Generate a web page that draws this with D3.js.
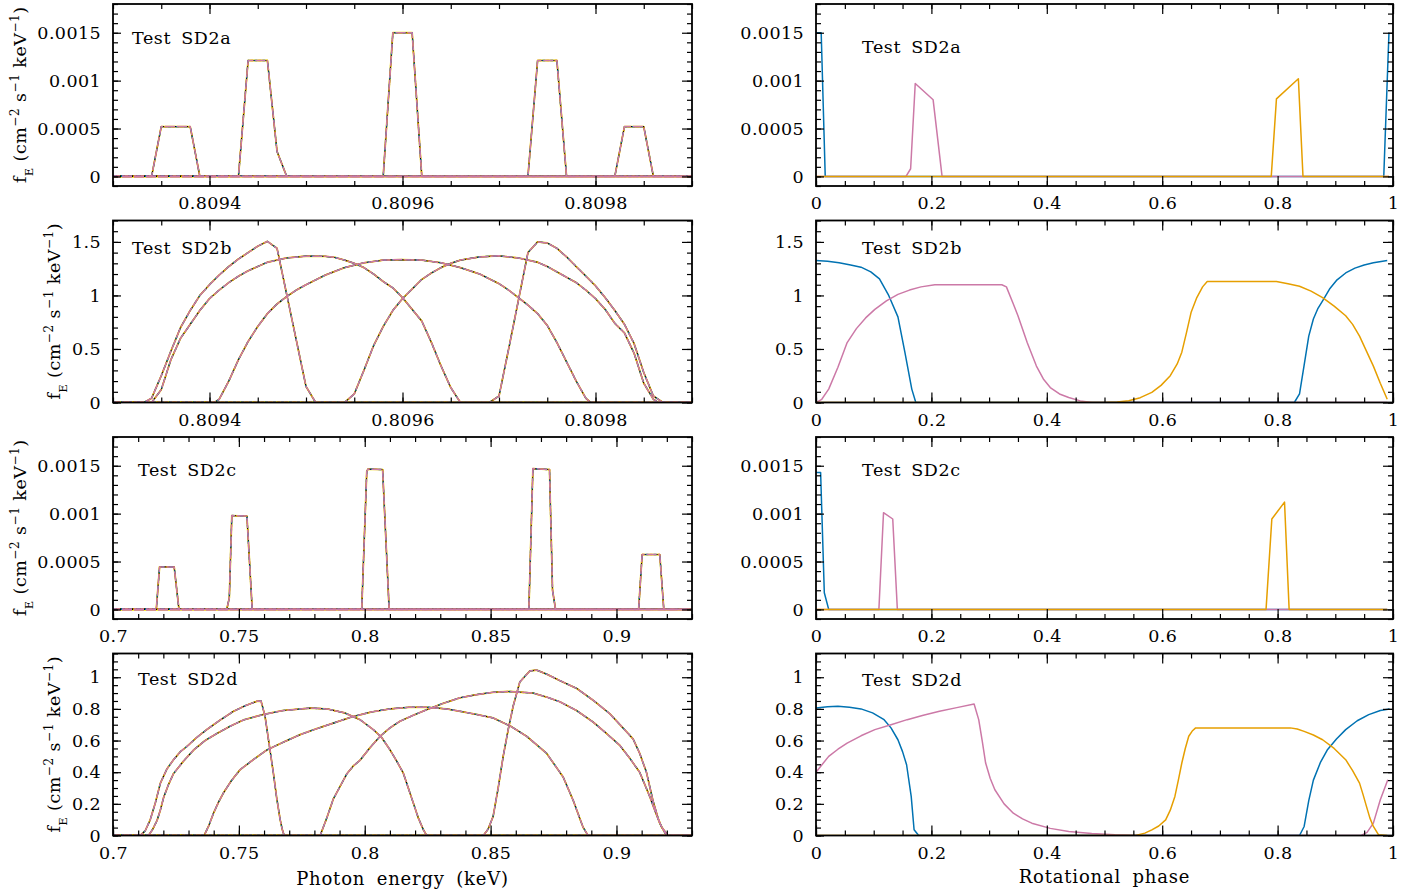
<!DOCTYPE html>
<html>
<head>
<meta charset="utf-8">
<script src="https://cdn.jsdelivr.net/npm/d3@7"></script>
<style>
  body { margin: 0; background: #fff; }
  svg text { font-family: "DejaVu Serif", serif; fill: #000; }
</style>
</head>
<body>
<svg id="fig" width="1422" height="892"></svg>
<script>
// ---------------- Spectra versus photon energy (keV, flux) ----------------
// Test SD2a: five phase slices
const sd2aSpec1 = [[0.8093,0],[0.80934,0],[0.80935,0.00052],[0.80938,0.00052],[0.80939,0],[0.8099,0]];
const sd2aSpec2 = [[0.8093,0],[0.80943,0],[0.80944,0.00121],[0.80946,0.00121],[0.80947,0.00026],[0.80948,0],[0.8099,0]];
const sd2aSpec3 = [[0.8093,0],[0.80958,0],[0.80959,0.0015],[0.80961,0.0015],[0.80962,0],[0.8099,0]];
const sd2aSpec4 = [[0.8093,0],[0.80973,0],[0.80974,0.00121],[0.80976,0.00121],[0.80977,0],[0.8099,0]];
const sd2aSpec5 = [[0.8093,0],[0.80982,0],[0.80983,0.00052],[0.80985,0.00052],[0.80986,0],[0.8099,0]];

// Test SD2b
const sd2bSpec1 = [[0.8093,0],[0.809332,0],[0.80934,0.04],[0.80935,0.25],[0.80936,0.48],[0.80937,0.70],[0.80938,0.86],
  [0.80939,1.0],[0.8094,1.10],[0.80941,1.19],[0.80942,1.27],[0.80943,1.34],[0.80944,1.40],[0.80945,1.46],[0.80946,1.505],
  [0.80947,1.44],[0.80948,1.01],[0.80949,0.58],[0.8095,0.15],[0.80951,0],[0.8099,0]];
const sd2bSpec2 = [[0.8093,0],[0.80934,0],[0.80935,0.12],[0.80936,0.40],[0.80937,0.60],[0.80938,0.73],[0.80939,0.86],
  [0.8094,0.97],[0.80941,1.05],[0.80942,1.12],[0.80943,1.18],[0.80944,1.23],[0.80946,1.31],[0.80948,1.35],[0.8095,1.367],
  [0.80952,1.365],[0.80953,1.355],[0.80954,1.33],[0.80955,1.30],[0.80956,1.26],[0.80957,1.20],[0.80958,1.13],[0.80959,1.07],
  [0.8096,0.98],[0.80961,0.87],[0.80962,0.76],[0.80963,0.56],[0.80964,0.34],[0.80965,0.14],[0.80966,0],[0.8099,0]];
const sd2bSpec3 = [[0.8093,0],[0.809405,0],[0.80941,0.03],[0.80942,0.20],[0.80943,0.40],[0.80944,0.57],[0.80945,0.71],
  [0.80946,0.83],[0.80947,0.92],[0.80948,0.99],[0.80949,1.05],[0.8095,1.10],[0.80952,1.19],[0.80954,1.26],[0.80956,1.305],
  [0.80958,1.33],[0.8096,1.335],[0.80962,1.33],[0.80964,1.305],[0.80966,1.26],[0.80968,1.20],[0.8097,1.11],[0.80971,1.05],
  [0.80972,0.98],[0.80973,0.91],[0.80974,0.83],[0.80975,0.72],[0.80976,0.56],[0.80977,0.38],[0.80978,0.20],[0.80979,0.04],
  [0.809795,0],[0.8099,0]];
const sd2bSpec4 = [[0.8093,0],[0.80954,0],[0.80955,0.08],[0.80956,0.30],[0.80957,0.53],[0.80958,0.71],[0.80959,0.86],
  [0.8096,0.97],[0.80961,1.06],[0.80962,1.15],[0.80963,1.21],[0.80964,1.26],[0.80965,1.30],[0.80966,1.33],[0.80968,1.36],
  [0.8097,1.37],[0.80972,1.35],[0.80974,1.31],[0.80975,1.27],[0.80976,1.22],[0.80977,1.17],[0.80978,1.12],[0.80979,1.05],
  [0.8098,0.97],[0.80981,0.87],[0.80982,0.74],[0.80983,0.65],[0.80984,0.46],[0.80985,0.18],[0.80986,0.03],[0.809865,0],[0.8099,0]];
const sd2bSpec5 = [[0.8093,0],[0.80969,0],[0.8097,0.06],[0.80971,0.50],[0.80972,0.95],[0.80973,1.40],[0.80974,1.50],
  [0.80975,1.49],[0.80976,1.44],[0.80977,1.36],[0.80978,1.27],[0.80979,1.18],[0.8098,1.09],[0.80981,0.98],[0.80982,0.86],
  [0.80983,0.73],[0.80984,0.55],[0.80985,0.28],[0.80986,0.06],[0.80987,0],[0.8099,0]];

// Test SD2c
const sd2cSpec1 = [[0.7,0],[0.7172,0],[0.7185,0.000444],[0.7243,0.000444],[0.7262,0],[0.93,0]];
const sd2cSpec2 = [[0.7,0],[0.7452,0],[0.7462,0.00012],[0.7472,0.00098],[0.7532,0.000975],[0.7553,0],[0.93,0]];
const sd2cSpec3 = [[0.7,0],[0.7988,0],[0.8008,0.00144],[0.8013,0.001465],[0.8071,0.00146],[0.8097,0],[0.93,0]];
const sd2cSpec4 = [[0.7,0],[0.8652,0],[0.8668,0.00147],[0.8734,0.00146],[0.8746,0.0002],[0.8758,0],[0.93,0]];
const sd2cSpec5 = [[0.7,0],[0.9088,0],[0.9102,0.000573],[0.9172,0.000573],[0.9188,0],[0.93,0]];

// Test SD2d
const sd2dSpec1 = [[0.7,0],[0.7108,0],[0.7128,0.03],[0.7148,0.10],[0.7168,0.205],[0.7188,0.33],[0.7214,0.42],[0.7241,0.48],
  [0.7268,0.53],[0.7294,0.563],[0.7333,0.62],[0.7373,0.67],[0.7426,0.73],[0.7479,0.785],[0.7525,0.82],[0.7571,0.848],
  [0.7588,0.85],[0.7604,0.753],[0.762,0.58],[0.7637,0.395],[0.765,0.24],[0.7664,0.10],[0.7672,0.04],[0.768,0],[0.93,0]];
const sd2dSpec2 = [[0.7,0],[0.7141,0],[0.7158,0.04],[0.7175,0.095],[0.7188,0.16],[0.7201,0.24],[0.722,0.32],[0.724,0.39],
  [0.728,0.47],[0.732,0.54],[0.7366,0.60],[0.7413,0.645],[0.7465,0.69],[0.7518,0.73],[0.7598,0.765],[0.7677,0.79],
  [0.7783,0.805],[0.785,0.80],[0.792,0.775],[0.7981,0.732],[0.8034,0.669],[0.8067,0.62],[0.81,0.542],[0.8127,0.47],
  [0.8153,0.395],[0.8173,0.30],[0.8193,0.205],[0.8213,0.11],[0.8233,0.036],[0.8246,0],[0.93,0]];
const sd2dSpec3 = [[0.7,0],[0.7362,0],[0.738,0.06],[0.7399,0.14],[0.7419,0.21],[0.7439,0.27],[0.7472,0.35],[0.7505,0.416],
  [0.7558,0.48],[0.7611,0.54],[0.7677,0.59],[0.7743,0.637],[0.7809,0.675],[0.7875,0.71],[0.795,0.75],[0.8025,0.78],
  [0.81,0.80],[0.8175,0.81],[0.825,0.81],[0.8325,0.80],[0.8378,0.785],[0.8444,0.765],[0.851,0.743],[0.858,0.69],
  [0.8643,0.627],[0.8722,0.52],[0.8788,0.37],[0.8828,0.222],[0.8867,0.053],[0.8887,0],[0.93,0]];
const sd2dSpec4 = [[0.7,0],[0.7823,0],[0.7849,0.11],[0.7875,0.23],[0.7902,0.31],[0.7929,0.39],[0.7955,0.44],[0.7981,0.475],
  [0.8021,0.555],[0.8061,0.627],[0.81,0.68],[0.814,0.722],[0.8193,0.76],[0.8246,0.795],[0.8312,0.835],[0.8378,0.87],
  [0.8444,0.89],[0.851,0.905],[0.8577,0.91],[0.8669,0.90],[0.8722,0.875],[0.8775,0.845],[0.8841,0.79],[0.8907,0.717],
  [0.896,0.645],[0.9013,0.57],[0.9052,0.49],[0.9092,0.40],[0.9132,0.247],[0.9152,0.16],[0.9172,0.078],[0.9198,0],[0.93,0]];
const sd2dSpec5 = [[0.7,0],[0.8471,0],[0.849,0.04],[0.851,0.12],[0.853,0.30],[0.855,0.50],[0.857,0.67],[0.859,0.82],
  [0.8616,0.97],[0.8656,1.04],[0.8683,1.045],[0.8722,1.02],[0.878,0.975],[0.8841,0.93],[0.8907,0.855],[0.8973,0.77],
  [0.902,0.69],[0.9066,0.61],[0.9092,0.52],[0.9119,0.40],[0.9145,0.22],[0.9165,0.11],[0.9179,0.053],[0.9205,0],[0.93,0]];

// ---------------- Light curves versus rotational phase ----------------
const sd2aPhaseBlue   = [[0,0.0015],[0.009,0.0015],[0.016,0],[0.984,0],[0.993,0.0015]];
const sd2aPhasePink   = [[0,0],[0.156,0],[0.164,0.00008],[0.172,0.00097],[0.203,0.0008],[0.2185,0],[0.993,0]];
const sd2aPhaseOrange = [[0,0],[0.789,0],[0.798,0.00081],[0.836,0.00102],[0.844,0],[0.993,0]];

const sd2bPhaseBlue = [[0,1.326],[0.02,1.32],[0.04,1.305],[0.06,1.285],[0.078,1.264],[0.095,1.22],[0.11,1.155],[0.126,1.0],
  [0.142,0.80],[0.154,0.47],[0.166,0.125],[0.173,0],[0.829,0],[0.838,0.08],[0.846,0.35],[0.854,0.62],[0.862,0.78],
  [0.87,0.88],[0.878,0.95],[0.89,1.06],[0.902,1.14],[0.918,1.21],[0.934,1.255],[0.95,1.285],[0.966,1.305],[0.99,1.326]];
const sd2bPhasePink = [[0,0],[0.01,0.03],[0.022,0.125],[0.038,0.33],[0.054,0.56],[0.07,0.69],[0.086,0.79],[0.102,0.87],
  [0.122,0.95],[0.142,1.01],[0.162,1.05],[0.182,1.08],[0.206,1.10],[0.322,1.10],[0.33,1.08],[0.342,0.92],[0.35,0.81],
  [0.366,0.56],[0.382,0.34],[0.394,0.22],[0.406,0.14],[0.422,0.08],[0.438,0.047],[0.458,0.015],[0.478,0],[0.99,0]];
const sd2bPhaseOrange = [[0,0],[0.5,0],[0.522,0.005],[0.542,0.016],[0.562,0.045],[0.582,0.094],[0.598,0.16],[0.614,0.25],
  [0.626,0.36],[0.634,0.47],[0.642,0.65],[0.65,0.84],[0.66,0.98],[0.67,1.08],[0.678,1.13],[0.798,1.13],[0.818,1.11],
  [0.838,1.086],[0.858,1.04],[0.878,0.98],[0.898,0.90],[0.918,0.81],[0.93,0.73],[0.942,0.62],[0.954,0.48],[0.966,0.34],
  [0.978,0.18],[0.99,0.03]];

const sd2cPhaseBlue   = [[0,0.00143],[0.008,0.00143],[0.0144,0.000174],[0.022,0],[0.99,0]];
const sd2cPhasePink   = [[0,0],[0.109,0],[0.117,0.00101],[0.133,0.000944],[0.141,0],[0.99,0]];
const sd2cPhaseOrange = [[0,0],[0.78,0],[0.79,0.000944],[0.812,0.00112],[0.82,0],[0.99,0]];

const sd2dPhaseBlue = [[0,0.806],[0.02,0.814],[0.038,0.816],[0.058,0.81],[0.078,0.80],[0.098,0.775],[0.118,0.732],[0.13,0.68],
  [0.142,0.605],[0.15,0.53],[0.157,0.447],[0.165,0.247],[0.17,0.036],[0.178,0],[0.838,0],[0.846,0.057],[0.854,0.22],
  [0.862,0.35],[0.874,0.46],[0.886,0.54],[0.902,0.61],[0.918,0.669],[0.938,0.725],[0.958,0.764],[0.978,0.79],[0.994,0.80]];
const sd2dPhasePink = [[0,0.40],[0.011,0.45],[0.022,0.50],[0.038,0.545],[0.054,0.584],[0.078,0.63],[0.102,0.669],[0.13,0.70],
  [0.158,0.732],[0.186,0.76],[0.214,0.785],[0.244,0.808],[0.274,0.831],[0.282,0.732],[0.288,0.6],[0.294,0.458],[0.302,0.36],
  [0.31,0.289],[0.326,0.2],[0.342,0.141],[0.358,0.105],[0.374,0.078],[0.406,0.045],[0.438,0.025],[0.478,0.012],[0.518,0.004],
  [0.558,0],[0.945,0],[0.955,0.02],[0.966,0.078],[0.978,0.226],[0.991,0.352]];
const sd2dPhaseOrange = [[0,0],[0.554,0],[0.57,0.015],[0.582,0.036],[0.594,0.06],[0.606,0.099],[0.614,0.16],[0.622,0.247],
  [0.628,0.35],[0.634,0.458],[0.64,0.55],[0.646,0.627],[0.652,0.66],[0.658,0.68],[0.822,0.68],[0.834,0.673],[0.846,0.658],
  [0.862,0.635],[0.878,0.605],[0.898,0.55],[0.918,0.479],[0.93,0.41],[0.942,0.331],[0.948,0.26],[0.954,0.184],[0.96,0.11],
  [0.966,0.057],[0.975,0.004],[0.99,0]];

// ---------------- Tick values and labels ----------------
const fineEnergyTicks  = [0.8094, 0.8096, 0.8098];
const fineEnergyLabels = ["0.8094", "0.8096", "0.8098"];
const wideEnergyTicks  = [0.7, 0.75, 0.8, 0.85, 0.9];
const wideEnergyLabels = ["0.7", "0.75", "0.8", "0.85", "0.9"];
const phaseTicks       = [0, 0.2, 0.4, 0.6, 0.8, 1];
const phaseLabels      = ["0", "0.2", "0.4", "0.6", "0.8", "1"];
const smallFluxTicks   = [0, 0.0005, 0.001, 0.0015];
const smallFluxLabels  = ["0", "0.0005", "0.001", "0.0015"];
const bFluxTicks       = [0, 0.5, 1, 1.5];
const bFluxLabels      = ["0", "0.5", "1", "1.5"];
const dFluxTicks       = [0, 0.2, 0.4, 0.6, 0.8, 1];
const dFluxLabels      = ["0", "0.2", "0.4", "0.6", "0.8", "1"];
const testNames        = ["Test SD2a", "Test SD2b", "Test SD2c", "Test SD2d"];

// ---------------- Layout ----------------
const svg = d3.select("#fig");
const colX = [{x0: 113, x1: 692}, {x0: 816, x1: 1393}];
const rowTop = [4, 220.5, 437, 653.5];
const panelH = 182;
const minorRange = (a, b, step) => d3.range(0, Math.round((b - a) / step) + 1).map(i => +(a + i * step).toFixed(8));

const axisSets = {
  fineE: {dom: [0.8093, 0.8099], major: fineEnergyTicks, labels: fineEnergyLabels, minor: minorRange(0.8093, 0.8099, 0.00005)},
  wideE: {dom: [0.7, 0.93], major: wideEnergyTicks, labels: wideEnergyLabels, minor: minorRange(0.7, 0.93, 0.01)},
  phase: {dom: [0, 1], major: phaseTicks, labels: phaseLabels, minor: minorRange(0, 1, 0.05)},
  fluxS: {dom: [-0.0001, 0.0018], major: smallFluxTicks, labels: smallFluxLabels, minor: minorRange(-0.0001, 0.0018, 0.0001)},
  fluxB: {dom: [0, 1.7], major: bFluxTicks, labels: bFluxLabels, minor: minorRange(0, 1.7, 0.1)},
  fluxD: {dom: [0, 1.15], major: dFluxTicks, labels: dFluxLabels, minor: minorRange(0, 1.15, 0.05)}
};

const panels = [
  {row: 0, col: 0, xa: "fineE", ya: "fluxS", name: 0, lab: [19, 39.5], spectra: [sd2aSpec1, sd2aSpec2, sd2aSpec3, sd2aSpec4, sd2aSpec5]},
  {row: 0, col: 1, xa: "phase", ya: "fluxS", name: 0, lab: [46, 49], phase: [sd2aPhaseBlue, sd2aPhasePink, sd2aPhaseOrange]},
  {row: 1, col: 0, xa: "fineE", ya: "fluxB", name: 1, lab: [19, 33], spectra: [sd2bSpec1, sd2bSpec2, sd2bSpec3, sd2bSpec4, sd2bSpec5]},
  {row: 1, col: 1, xa: "phase", ya: "fluxB", name: 1, lab: [46, 33], phase: [sd2bPhaseBlue, sd2bPhasePink, sd2bPhaseOrange]},
  {row: 2, col: 0, xa: "wideE", ya: "fluxS", name: 2, lab: [25, 39], spectra: [sd2cSpec1, sd2cSpec2, sd2cSpec3, sd2cSpec4, sd2cSpec5]},
  {row: 2, col: 1, xa: "phase", ya: "fluxS", name: 2, lab: [46, 39], phase: [sd2cPhaseBlue, sd2cPhasePink, sd2cPhaseOrange]},
  {row: 3, col: 0, xa: "wideE", ya: "fluxD", name: 3, lab: [25, 31.5], spectra: [sd2dSpec1, sd2dSpec2, sd2dSpec3, sd2dSpec4, sd2dSpec5]},
  {row: 3, col: 1, xa: "phase", ya: "fluxD", name: 3, lab: [46, 32.5], phase: [sd2dPhaseBlue, sd2dPhasePink, sd2dPhaseOrange]}
];

// Each spectrum is overplotted by several runs; stacked dashes give the mottled look
const spectrumLayers = [
  {color: "#f2e600", width: 1.8, dash: null, offset: 0},
  {color: "#000000", width: 1.1, dash: null, offset: 0},
  {color: "#0072B2", width: 1.4, dash: "3,5", offset: 0},
  {color: "#E69F00", width: 1.4, dash: "3,5", offset: 4},
  {color: "#CC79A7", width: 1.5, dash: "10,2", offset: 3}
];
const phaseColors = ["#0072B2", "#CC79A7", "#E69F00"];

panels.forEach((p, i) => {
  const {x0, x1} = colX[p.col];
  const w = x1 - x0, h = panelH;
  const g = svg.append("g").attr("transform", `translate(${x0},${rowTop[p.row]})`);
  const XA = axisSets[p.xa], YA = axisSets[p.ya];
  const x = d3.scaleLinear().domain(XA.dom).range([0, w]);
  const y = d3.scaleLinear().domain(YA.dom).range([h, 0]);

  const clipId = "clip" + i;
  g.append("clipPath").attr("id", clipId).append("rect").attr("width", w).attr("height", h);
  const plot = g.append("g").attr("clip-path", `url(#${clipId})`);
  const line = d3.line().x(d => x(d[0])).y(d => y(d[1]));

  if (p.spectra) {
    spectrumLayers.forEach(L => {
      p.spectra.forEach(s => {
        plot.append("path").datum(s).attr("d", line)
          .attr("fill", "none").attr("stroke", L.color).attr("stroke-width", L.width)
          .attr("stroke-linejoin", "round")
          .attr("stroke-dasharray", L.dash).attr("stroke-dashoffset", L.offset);
      });
    });
  } else {
    p.phase.forEach((s, k) => {
      plot.append("path").datum(s).attr("d", line)
        .attr("fill", "none").attr("stroke", phaseColors[k]).attr("stroke-width", 1.5)
        .attr("stroke-linejoin", "round");
    });
  }

  // inward ticks on all four sides
  const tickStyle = sel => {
    sel.select(".domain").remove();
    sel.selectAll("line").attr("stroke", "#000").attr("stroke-width", 1.2);
    sel.selectAll("text").style("font-size", "17.5px").attr("font-family", "DejaVu Serif")
      .style("letter-spacing", "0.4px");
  };
  const fmtX = d => XA.labels[XA.major.indexOf(d)];
  const fmtY = d => YA.labels[YA.major.indexOf(d)];

  g.append("g").attr("transform", `translate(0,${h})`)
    .call(d3.axisBottom(x).tickValues(XA.minor).tickSize(-5).tickFormat("")).call(tickStyle);
  g.append("g").attr("transform", `translate(0,${h})`)
    .call(d3.axisBottom(x).tickValues(XA.major).tickSize(-10).tickPadding(11).tickFormat(fmtX)).call(tickStyle);
  g.append("g")
    .call(d3.axisTop(x).tickValues(XA.minor).tickSize(-5).tickFormat("")).call(tickStyle);
  g.append("g")
    .call(d3.axisTop(x).tickValues(XA.major).tickSize(-10).tickFormat("")).call(tickStyle);

  g.append("g")
    .call(d3.axisLeft(y).tickValues(YA.minor).tickSize(-5).tickFormat("")).call(tickStyle);
  g.append("g")
    .call(d3.axisLeft(y).tickValues(YA.major).tickSize(-8).tickPadding(12).tickFormat(fmtY)).call(tickStyle);
  g.append("g").attr("transform", `translate(${w},0)`)
    .call(d3.axisRight(y).tickValues(YA.minor).tickSize(-5).tickFormat("")).call(tickStyle);
  g.append("g").attr("transform", `translate(${w},0)`)
    .call(d3.axisRight(y).tickValues(YA.major).tickSize(-10).tickFormat("")).call(tickStyle);

  g.append("rect").attr("width", w).attr("height", h)
    .attr("fill", "none").attr("stroke", "#000").attr("stroke-width", 1.8);

  g.append("text").attr("x", p.lab[0]).attr("y", p.lab[1])
    .style("font-size", "17.5px").style("letter-spacing", "0.6px").style("word-spacing", "4px")
    .text(testNames[p.name]);

  // flux axis title on the left column only
  if (p.col === 0) {
    const tx = (p.ya === "fluxS") ? 26 : 60;
    const t = g.append("text")
      .attr("transform", `translate(${tx - x0},${h / 2}) rotate(-90)`)
      .attr("text-anchor", "middle").style("font-size", "17.5px")
      .attr("textLength", 176).attr("lengthAdjust", "spacing");
    t.append("tspan").text("f");
    t.append("tspan").attr("baseline-shift", "sub").style("font-size", "11px").text("E");
    t.append("tspan").text(" (cm");
    t.append("tspan").attr("baseline-shift", "super").style("font-size", "12px").text("−2");
    t.append("tspan").text(" s");
    t.append("tspan").attr("baseline-shift", "super").style("font-size", "12px").text("−1");
    t.append("tspan").text(" keV");
    t.append("tspan").attr("baseline-shift", "super").style("font-size", "12px").text("−1");
    t.append("tspan").text(")");
  }
});

svg.append("text").attr("x", (colX[0].x0 + colX[0].x1) / 2).attr("y", 885)
  .attr("text-anchor", "middle").style("font-size", "18px")
  .style("letter-spacing", "0.8px").style("word-spacing", "5px").text("Photon energy (keV)");
svg.append("text").attr("x", (colX[1].x0 + colX[1].x1) / 2).attr("y", 883)
  .attr("text-anchor", "middle").style("font-size", "18px")
  .style("letter-spacing", "0.8px").style("word-spacing", "5px").text("Rotational phase");
</script>
</body>
</html>
